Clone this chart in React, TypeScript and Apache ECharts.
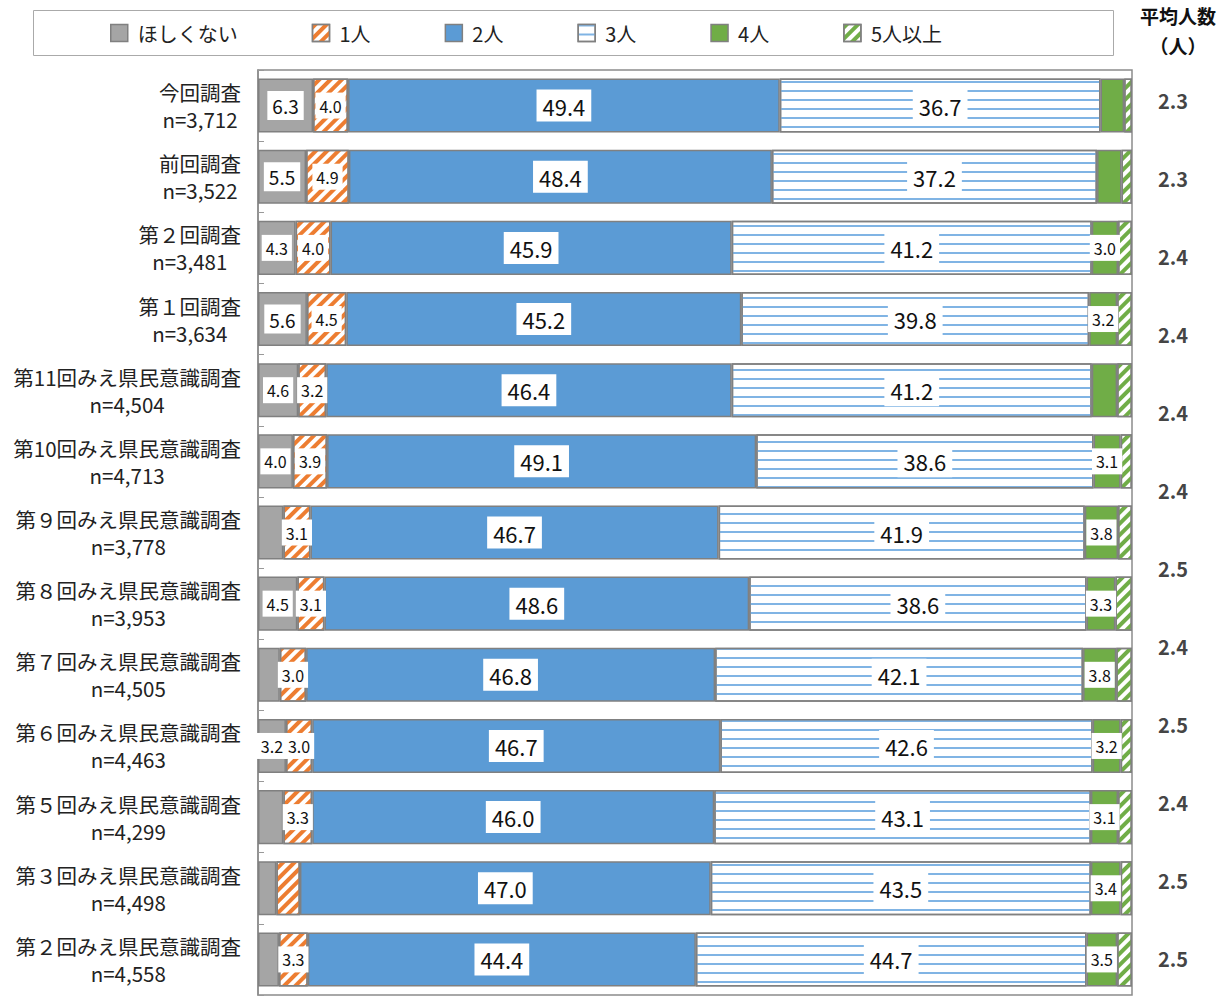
import React, { useEffect, useRef } from "react";
import * as echarts from "echarts";

const categories = [
  "今回調査",
  "前回調査",
  "第２回調査",
  "第１回調査",
  "第11回みえ県民意識調査",
  "第10回みえ県民意識調査",
  "第９回みえ県民意識調査",
  "第８回みえ県民意識調査",
  "第７回みえ県民意識調査",
  "第６回みえ県民意識調査",
  "第５回みえ県民意識調査",
  "第３回みえ県民意識調査",
  "第２回みえ県民意識調査",
];
const sampleSizes = ["3,712", "3,522", "3,481", "3,634", "4,504", "4,713", "3,778", "3,953", "4,505", "4,463", "4,299", "4,498", "4,558"];

const seriesNames = ["ほしくない", "1人", "2人", "3人", "4人", "5人以上"];
const noneVals = [6.3, 5.5, 4.3, 5.6, 4.6, 4.0, 2.9, 4.5, 2.5, 3.2, 2.9, 2.1, 2.4];
const oneVals = [4.0, 4.9, 4.0, 4.5, 3.2, 3.9, 3.1, 3.1, 3.0, 3.0, 3.3, 2.7, 3.3];
const twoVals = [49.4, 48.4, 45.9, 45.2, 46.4, 49.1, 46.7, 48.6, 46.8, 46.7, 46.0, 47.0, 44.4];
const threeVals = [36.7, 37.2, 41.2, 39.8, 41.2, 38.6, 41.9, 38.6, 42.1, 42.6, 43.1, 43.5, 44.7];
const fourVals = [2.7, 2.8, 3.0, 3.2, 2.9, 3.1, 3.8, 3.3, 3.8, 3.2, 3.1, 3.4, 3.5];
const fivePlusVals = [0.9, 1.2, 1.6, 1.7, 1.7, 1.3, 1.6, 1.9, 1.8, 1.3, 1.6, 1.3, 1.7];

const averageVals = [2.3, 2.3, 2.4, 2.4, 2.4, 2.4, 2.5, 2.4, 2.5, 2.4, 2.5, 2.5];

const FONT = "'Liberation Sans Narrow', 'Noto Sans CJK JP', sans-serif";
const BORDER = "#808080";

function stripe(color: string, rot: number, y: number[]) {
  return {
    symbol: "rect",
    symbolSize: 1,
    dashArrayX: [1, 0],
    dashArrayY: y,
    rotation: rot,
    color,
  };
}

const styles = [
  { color: "#a5a5a5" },
  { color: "#ffffff", decal: stripe("#ed7d31", -Math.PI / 4, [4, 4]) },
  { color: "#5b9bd5" },
  { color: "#ffffff", decal: stripe("#80b4e4", 0, [2, 6.5]) },
  { color: "#70ad47" },
  { color: "#ffffff", decal: stripe("#70ad47", -Math.PI / 4, [4, 4]) },
];

const allVals = [noneVals, oneVals, twoVals, threeVals, fourVals, fivePlusVals];

export default function App() {
  const ref = useRef<HTMLDivElement>(null);
  useEffect(() => {
    document.body.style.margin = "0";
    if (!ref.current) return;
    const chart = echarts.init(ref.current, null, { renderer: "svg" });

    const barSeries = allVals.map((vals, si) => ({
      name: seriesNames[si],
      type: "bar",
      stack: "total",
      xAxisIndex: 0,
      yAxisIndex: 0,
      barCategoryGap: "24%",
      itemStyle: { ...styles[si], borderColor: BORDER, borderWidth: 1.5 },
      data: vals.map((v) => ({
        value: v,
        label: {
          show: v >= 3,
          fontSize: v >= 10 ? 22 : v >= 5 ? 19 : 16,
          padding: v >= 10 ? [5, 6] : v >= 5 ? [5, 5] : [5, 4],
        },
      })),
      label: {
        show: true,
        position: "inside",
        color: "#111",
        fontFamily: FONT,
        backgroundColor: "#ffffff",
        formatter: (p: any) => Number(p.value).toFixed(1),
      },
      emphasis: { disabled: true },
    }));

    const option: any = {
      animation: false,
      textStyle: { fontFamily: FONT },
      legend: {
        left: 105,
        top: 18,
        itemWidth: 17,
        itemHeight: 17,
        itemGap: 74,
        icon: "rect",
        textStyle: { fontSize: 20, color: "#222", fontFamily: FONT, padding: [0, 0, 0, 5] },
        itemStyle: { borderColor: BORDER, borderWidth: 1.5 },
        data: seriesNames,
        selectedMode: false,
      },
      graphic: [
        {
          type: "rect",
          shape: { x: 33.5, y: 10.5, width: 1080, height: 45 },
          style: { fill: "none", stroke: "#aaaaaa", lineWidth: 1 },
          silent: true,
        },
        {
          type: "text",
          x: 1178,
          y: 15,
          style: {
            text: "平均人数",
            fontSize: 19,
            fontWeight: "bold",
            fontFamily: FONT,
            fill: "#111",
            align: "center",
            verticalAlign: "middle",
          },
        },
        {
          type: "text",
          x: 1178,
          y: 45,
          style: {
            text: "（人）",
            fontSize: 19,
            fontWeight: "bold",
            fontFamily: FONT,
            fill: "#111",
            align: "center",
            verticalAlign: "middle",
          },
        },
      ],
      grid: [
        {
          left: 258,
          right: 94,
          top: 70,
          bottom: 3,
          show: true,
          borderColor: "#8c8c8c",
          borderWidth: 1.5,
          backgroundColor: "transparent",
        },
        { left: 1132, width: 82, top: 61, height: 944 },
      ],
      xAxis: [
        { type: "value", gridIndex: 0, min: 0, max: 100, show: false },
        { type: "value", gridIndex: 1, min: -1, max: 1, show: false },
      ],
      yAxis: [
        {
          type: "category",
          gridIndex: 0,
          inverse: true,
          data: categories,
          axisLine: { show: true, lineStyle: { color: "#8c8c8c", width: 1.5 } },
          axisTick: { show: true, inside: true, length: 6, lineStyle: { color: "#999" } },
          axisLabel: {
            margin: 17,
            align: "right",
            formatter: (v: string, i: number) => `{a|${v}}\n{a|n=${sampleSizes[i]}}`,
            rich: {
              a: {
                align: "center",
                fontSize: 20.5,
                lineHeight: 27,
                color: "#222",
                fontFamily: FONT,
              },
            },
          },
        },
        {
          type: "category",
          gridIndex: 1,
          inverse: true,
          data: averageVals.map((_, i) => `a${i}`),
          show: false,
        },
      ],
      series: [
        ...barSeries,
        {
          type: "scatter",
          xAxisIndex: 1,
          yAxisIndex: 1,
          symbolSize: 1,
          itemStyle: { color: "rgba(0,0,0,0)" },
          data: averageVals.map((v, i) => [0, i, v]),
          label: {
            show: true,
            position: "inside",
            fontSize: 20,
            fontWeight: "bold",
            color: "#111",
            fontFamily: FONT,
            formatter: (p: any) => Number(p.data[2]).toFixed(1),
          },
          emphasis: { disabled: true },
          silent: true,
        },
      ],
    };
    chart.setOption(option);
    return () => chart.dispose();
  }, []);
  return <div ref={ref} style={{ width: 1226, height: 998 }} />;
}
